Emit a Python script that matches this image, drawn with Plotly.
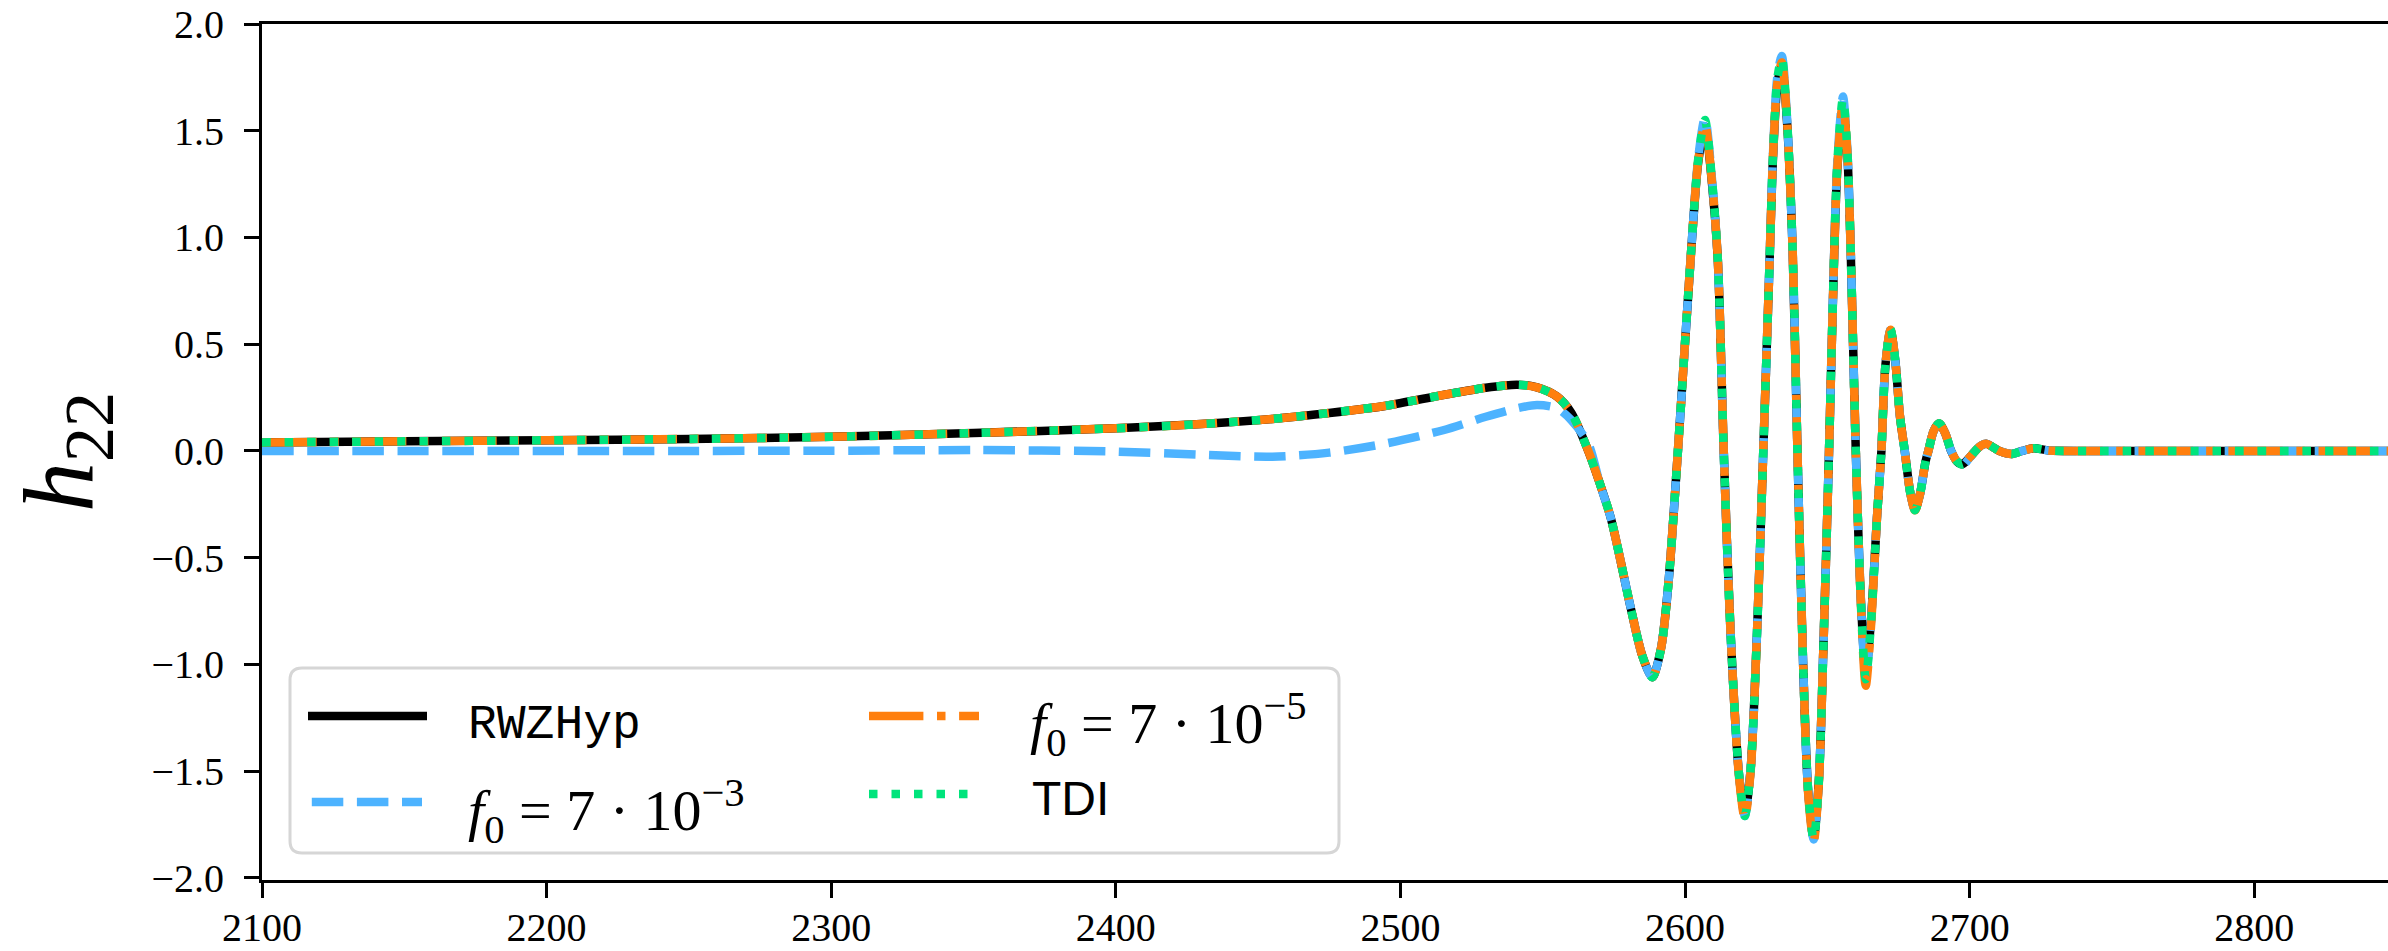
import plotly.graph_objects as go

# ---- waveform samples (retarded time u, strain amplitude h22) ----
t = [2100, 2150, 2200, 2250, 2300, 2350, 2400, 2430, 2455, 2475, 2495, 2515, 2530, 2541,
     2548, 2555, 2560, 2566, 2570, 2574, 2581, 2585, 2588.5, 2591.5, 2594.2, 2597.5,
     2602.2, 2604.7, 2607, 2609.5, 2611.5, 2613.6, 2616, 2619, 2621, 2623, 2625.3, 2627.5,
     2629.5, 2631, 2632.5, 2634, 2635.8, 2637.8, 2639.5, 2641.5, 2643.3, 2645.2, 2647,
     2648.6, 2650.6, 2651.8, 2653.5, 2655.5, 2657, 2658.2, 2660, 2661.8, 2663.5, 2665.3,
     2667.5, 2669, 2670.4, 2672.2, 2673.9, 2675.5, 2677.2, 2679.2, 2680.8, 2682.6, 2684.5,
     2685.5, 2687.4, 2689.3, 2691.5, 2693.5, 2695.6, 2697.5, 2700, 2702, 2704, 2706,
     2708.5, 2710.5, 2714.8, 2718.5, 2722.5, 2728, 2740, 2780, 2847]

h_rwz = [0.040, 0.045, 0.050, 0.056, 0.066, 0.084, 0.106, 0.126, 0.150, 0.178, 0.212, 0.262, 0.296, 0.310,
         0.298, 0.255, 0.180, 0.000, -0.150, -0.318, -0.740, -0.960, -1.060, -0.930, -0.615, 0.000,
         0.946, 1.360, 1.520, 1.250, 0.900, 0.000, -0.850, -1.520, -1.700, -1.500, -0.850, 0.000,
         0.800, 1.400, 1.720, 1.810, 1.550, 0.946, 0.000, -1.000, -1.600, -1.810, -1.550,
         -0.930, 0.000, 0.620, 1.320, 1.610, 1.400, 0.946, 0.000, -0.700, -1.040, -0.800,
         -0.300, 0.000, 0.400, 0.565, 0.420, 0.165, 0.000, -0.200, -0.275, -0.200, -0.050,
         0.000, 0.095, 0.128, 0.080, 0.000, -0.050, -0.062, -0.030, 0.000, 0.025, 0.033,
         0.015, 0.000, -0.014, 0.000, 0.012, 0.002, 0.000, 0.000, 0.000]

h_f3 = [0.000, 0.000, 0.000, 0.000, 0.001, 0.004, -0.003, -0.018, -0.027, -0.008, 0.035, 0.097, 0.160, 0.200,
        0.215, 0.200, 0.145, 0.035, -0.150, -0.318, -0.740, -0.960, -1.060, -0.930, -0.615, 0.000,
        0.946, 1.380, 1.560, 1.270, 0.900, 0.000, -0.850, -1.520, -1.710, -1.500, -0.850, 0.000,
        0.800, 1.420, 1.760, 1.850, 1.570, 0.946, 0.000, -1.000, -1.600, -1.820, -1.550,
        -0.930, 0.000, 0.630, 1.350, 1.660, 1.420, 0.946, 0.000, -0.700, -1.060, -0.810,
        -0.300, 0.000, 0.400, 0.570, 0.420, 0.165, 0.000, -0.200, -0.280, -0.200, -0.050,
        0.000, 0.095, 0.130, 0.080, 0.000, -0.052, -0.068, -0.032, 0.000, 0.025, 0.033,
        0.015, 0.000, -0.014, 0.000, 0.012, 0.002, 0.000, 0.000, 0.000]

h_f5 = [0.040, 0.045, 0.050, 0.056, 0.066, 0.084, 0.106, 0.126, 0.150, 0.178, 0.212, 0.262, 0.296, 0.310,
        0.298, 0.255, 0.180, 0.000, -0.150, -0.318, -0.740, -0.960, -1.060, -0.930, -0.615, 0.000,
        0.946, 1.365, 1.530, 1.255, 0.900, 0.000, -0.850, -1.530, -1.720, -1.510, -0.850, 0.000,
        0.800, 1.405, 1.730, 1.820, 1.555, 0.946, 0.000, -1.000, -1.610, -1.830, -1.560,
        -0.930, 0.000, 0.620, 1.325, 1.625, 1.405, 0.946, 0.000, -0.720, -1.100, -0.830,
        -0.300, 0.000, 0.400, 0.568, 0.420, 0.165, 0.000, -0.200, -0.278, -0.200, -0.050,
        0.000, 0.095, 0.128, 0.080, 0.000, -0.050, -0.062, -0.030, 0.000, 0.025, 0.033,
        0.015, 0.000, -0.014, 0.000, 0.012, 0.002, 0.000, 0.000, 0.000]

h_tdi = [0.040, 0.045, 0.050, 0.056, 0.066, 0.084, 0.106, 0.126, 0.150, 0.178, 0.212, 0.262, 0.296, 0.310,
         0.298, 0.255, 0.180, 0.000, -0.150, -0.318, -0.740, -0.960, -1.060, -0.930, -0.615, 0.000,
         0.946, 1.375, 1.550, 1.265, 0.900, 0.000, -0.850, -1.520, -1.710, -1.500, -0.850, 0.000,
         0.800, 1.415, 1.750, 1.840, 1.565, 0.946, 0.000, -1.000, -1.600, -1.820, -1.550,
         -0.930, 0.000, 0.630, 1.345, 1.650, 1.415, 0.946, 0.000, -0.710, -1.070, -0.815,
         -0.300, 0.000, 0.400, 0.570, 0.420, 0.165, 0.000, -0.200, -0.278, -0.200, -0.050,
         0.000, 0.095, 0.130, 0.080, 0.000, -0.050, -0.064, -0.030, 0.000, 0.025, 0.033,
         0.015, 0.000, -0.014, 0.000, 0.012, 0.002, 0.000, 0.000, 0.000]

labels = ["RWZHyp",
          "<i>f</i><sub>0</sub> = 7 · 10<sup>−3</sup>",
          "<i>f</i><sub>0</sub> = 7 · 10<sup>−5</sup>",
          "TDI"]
colors = ["#000000", "#4DB3FF", "#FF7F0E", "#00E47C"]
dashes = ["solid", "31.5px,13.6px", "54.4px,13.6px,8.5px,13.6px", "8.5px,14px"]
LW = 8.5

x_ticks = [2100, 2200, 2300, 2400, 2500, 2600, 2700, 2800]
y_ticks = [-2.0, -1.5, -1.0, -0.5, 0.0, 0.5, 1.0, 1.5, 2.0]

SERIF = "Liberation Serif, DejaVu Serif, serif"
MONO = "Liberation Mono, DejaVu Sans Mono, monospace"
SANS = "Liberation Sans, DejaVu Sans, sans-serif"

# ---- page geometry ----
W, H = 2388, 951
ML, MR, MT, MB = 262, 0, 24, 71
PW, PH = W - ML - MR, H - MT - MB

def px(x):
    return (x - ML) / PW

def py(y):
    return (H - MB - y) / PH

fig = go.Figure()
for name, h, c, d in zip(labels, [h_rwz, h_f3, h_f5, h_tdi], colors, dashes):
    fig.add_trace(go.Scatter(x=t, y=h, mode="lines", name=name, showlegend=False,
                             line=dict(color=c, width=LW, dash=d, shape="spline", smoothing=0.8)))

# ---- two-column legend box ----
x0, x1 = px(290), px(1339)
yt, yb = py(668), py(853)
rx, ry = 12 / PW, 12 / PH
frame = (f"M {x0+rx},{yb} L {x1-rx},{yb} Q {x1},{yb} {x1},{yb+ry} L {x1},{yt-ry} "
         f"Q {x1},{yt} {x1-rx},{yt} L {x0+rx},{yt} Q {x0},{yt} {x0},{yt-ry} "
         f"L {x0},{yb+ry} Q {x0},{yb} {x0+rx},{yb} Z")
shapes = [dict(type="path", path=frame, xref="paper", yref="paper",
               line=dict(color="#D6D6D6", width=3), fillcolor="rgba(255,255,255,0.85)", layer="above")]

handles = [(308, 427, 716), (311.8, 422, 802), (869, 979, 716), (869, 979, 794)]
for (hx0, hx1, hy), c, d in zip(handles, colors, dashes):
    shapes.append(dict(type="line", xref="paper", yref="paper",
                       x0=px(hx0), x1=px(hx1), y0=py(hy), y1=py(hy),
                       line=dict(color=c, width=LW, dash=d), layer="above"))

text_pos = [(466, 725, MONO, 48),
            (466, 811, SERIF, 58),
            (1028, 724, SERIF, 58),
            (1030, 798, SANS, 48)]
annotations = []
for (tx, ty, fam, fs), lab in zip(text_pos, labels):
    annotations.append(dict(text=lab, xref="paper", yref="paper", x=px(tx), y=py(ty),
                            xanchor="left", yanchor="middle", showarrow=False,
                            font=dict(family=fam, size=fs, color="black")))

axis_common = dict(showline=True, linecolor="black", linewidth=3, ticks="outside",
                   ticklen=15, tickwidth=3, tickcolor="black", showgrid=False, zeroline=False,
                   automargin=False,
                   tickfont=dict(family=SERIF, size=40, color="black"))

fig.update_layout(
    width=W, height=H,
    margin=dict(l=ML, r=MR, t=MT, b=MB, pad=0, autoexpand=False),
    paper_bgcolor="white", plot_bgcolor="white",
    shapes=shapes, annotations=annotations,
    xaxis=dict(range=[2100, 2847], tickvals=x_ticks, mirror=True, ticklabelstandoff=-5,
               **axis_common),
    yaxis=dict(range=[-2.01, 2.0], tickvals=y_ticks, tickformat=".1f", ticklabelstandoff=12,
               title=dict(text="<i>h</i><sub>22</sub>", standoff=26,
                          font=dict(family=SERIF, size=100, color="black")),
               **axis_common),
)

fig.write_html("out.html", config={"displayModeBar": False})
